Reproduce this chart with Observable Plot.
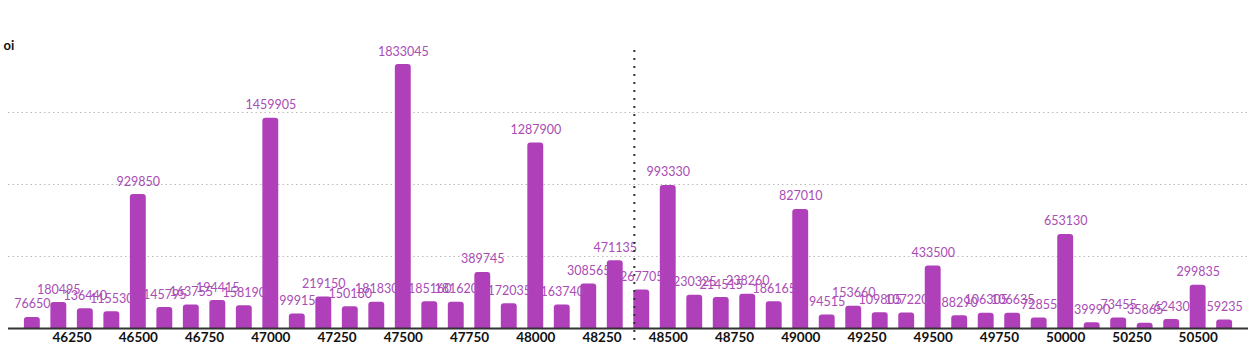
<!DOCTYPE html>
<html>
<head>
<meta charset="utf-8">
<script src="https://cdn.jsdelivr.net/npm/d3@7"></script>
<script src="https://cdn.jsdelivr.net/npm/@observablehq/plot@0.6"></script>
<style>
  html, body { margin: 0; padding: 0; background: #fff; }
  #chart { width: 1251px; height: 351px; }
</style>
</head>
<body>
<div id="chart"></div>
<script>
const strikes = [46100, 46200, 46300, 46400, 46500, 46600, 46700, 46800, 46900, 47000,
  47100, 47200, 47300, 47400, 47500, 47600, 47700, 47800, 47900, 48000,
  48100, 48200, 48300, 48400, 48500, 48600, 48700, 48800, 48900, 49000,
  49100, 49200, 49300, 49400, 49500, 49600, 49700, 49800, 49900, 50000,
  50100, 50200, 50300, 50400, 50500, 50600];
const oiValues = [76650, 180495, 136440, 115530, 929850, 145795, 163755, 194415, 158190, 1459905,
  99915, 219150, 150180, 181830, 1833045, 185160, 181620, 389745, 172035, 1287900,
  163740, 308565, 471135, 267705, 993330, 230325, 214515, 238260, 186165, 827010,
  94515, 153660, 109805, 107220, 433500, 88290, 106305, 106635, 72855, 653130,
  39990, 73455, 35865, 62430, 299835, 59235];
const xTicks = [46250, 46500, 46750, 47000, 47250, 47500, 47750, 48000, 48250, 48500,
  48750, 49000, 49250, 49500, 49750, 50000, 50250, 50500];
const yGrid = [500000, 1000000, 1500000];
const spot = [48372];
const yLabel = "oi";

const data = strikes.map((s, i) => ({strike: s, oi: oiValues[i]}));

const chart = Plot.plot({
  width: 1251,
  height: 351,
  marginLeft: 8,
  marginRight: 3,
  marginTop: 40,
  marginBottom: 23,
  style: {fontFamily: "Lato, sans-serif", fontSize: "13px", background: "#fff"},
  x: {domain: [46010, 50690]},
  y: {domain: [0, 2000000]},
  marks: [
    Plot.ruleY(yGrid, {stroke: "#bbb", strokeDasharray: "1.5,3", strokeWidth: 1}),
    Plot.rectY(data, {
      x1: d => d.strike - 30,
      x2: d => d.strike + 30,
      y: "oi",
      fill: "#b03fba",
      ry2: 3
    }),
    Plot.text(data, {
      x: "strike",
      y: "oi",
      text: d => String(d.oi),
      dy: -13,
      fill: "#a94cb5",
      fontSize: 12.5
    }),
    Plot.ruleY([0], {stroke: "#333", strokeWidth: 2}),
    Plot.ruleX(spot, {stroke: "#333", strokeWidth: 2, strokeDasharray: "2,6", insetTop: 10, insetBottom: -17}),
    Plot.axisX({ticks: xTicks, tickSize: 0, tickPadding: 4, tickFormat: d => String(d), fontWeight: "bold", fill: "#111", fontSize: 13.5, label: null}),
    Plot.axisY({ticks: [], label: null}),
    Plot.text([yLabel], {frameAnchor: "top-left", text: d => d, dx: -5, dy: 0, fontWeight: "bold", fill: "#111", fontSize: 13})
  ]
});
document.getElementById("chart").appendChild(chart);
</script>
</body>
</html>
